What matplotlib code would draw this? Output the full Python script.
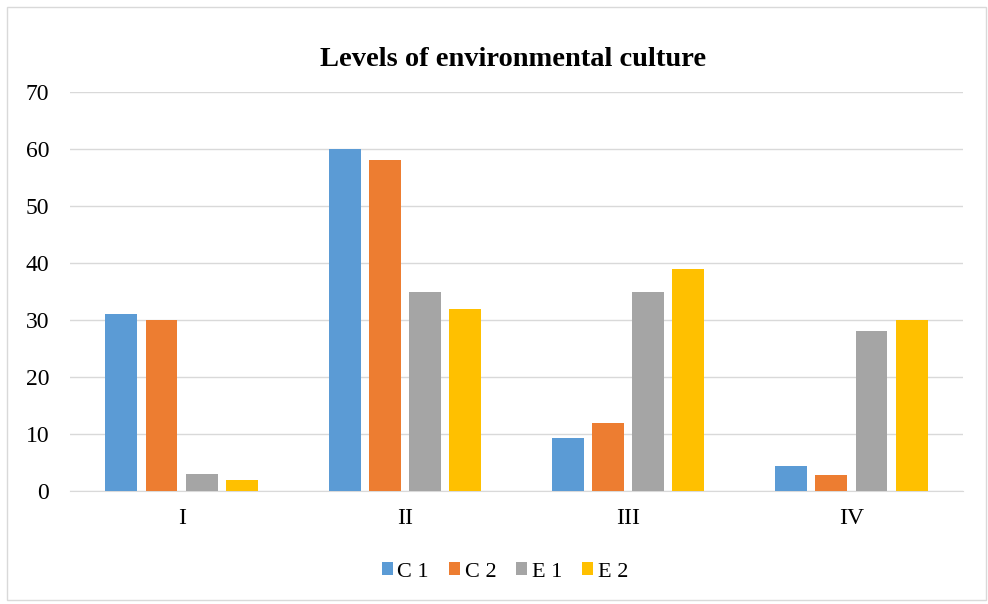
import matplotlib.pyplot as plt
import numpy as np
from matplotlib.patches import Rectangle

# Data
categories = ['I', 'II', 'III', 'IV']
series = ['C 1', 'C 2', 'E 1', 'E 2']
c1 = [31, 60, 9.3, 4.3]
c2 = [30, 58, 12, 2.8]
e1 = [3, 35, 35, 28]
e2 = [2, 32, 39, 30]
colors = ['#5B9BD5', '#ED7D31', '#A5A5A5', '#FFC000']

plt.rcParams['font.family'] = ['Liberation Serif', 'DejaVu Serif']

fig = plt.figure(figsize=(9.88, 6.04), dpi=100)
ax = fig.add_axes([70 / 988, 1 - 491 / 604, (963 - 70) / 988, (491 - 92) / 604])

# Outer chart border
fig.patches.append(Rectangle((7 / 988, 4 / 604), 979 / 988, 593 / 604,
                             transform=fig.transFigure, fill=False,
                             edgecolor='#d9d9d9', linewidth=1))

x = np.arange(len(categories))
step = 0.18
width = 0.143
for i, (vals, name) in enumerate(zip([c1, c2, e1, e2], series)):
    ax.bar(x + (i - 1.5) * step, vals, width, color=colors[i], label=name, zorder=3)

ax.set_xlim(-0.5, 3.5)
ax.set_ylim(0, 70)
ax.set_yticks(range(0, 71, 10))
ax.set_xticks(x)
ax.set_xticklabels(categories)
ax.tick_params(length=0, labelsize=17, colors='#000000')
ax.tick_params(axis='y', pad=15)
ax.tick_params(axis='x', pad=12)
ax.grid(axis='y', color='#d9d9d9', linewidth=1, zorder=0)
for s in ['top', 'right', 'left']:
    ax.spines[s].set_visible(False)
ax.spines['bottom'].set_color('#d9d9d9')

fig.text(513 / 988, 1 - 60 / 604, 'Levels of environmental culture', ha='center', va='center',
         fontsize=20.5, fontweight='bold')

fig.legend(loc='center', bbox_to_anchor=(505 / 988, 1 - 572 / 604), ncol=4, frameon=False,
           fontsize=16, handlelength=0.5, handleheight=0.5, handletextpad=0.2, columnspacing=0.9)

fig.savefig('out.png', dpi=100)
